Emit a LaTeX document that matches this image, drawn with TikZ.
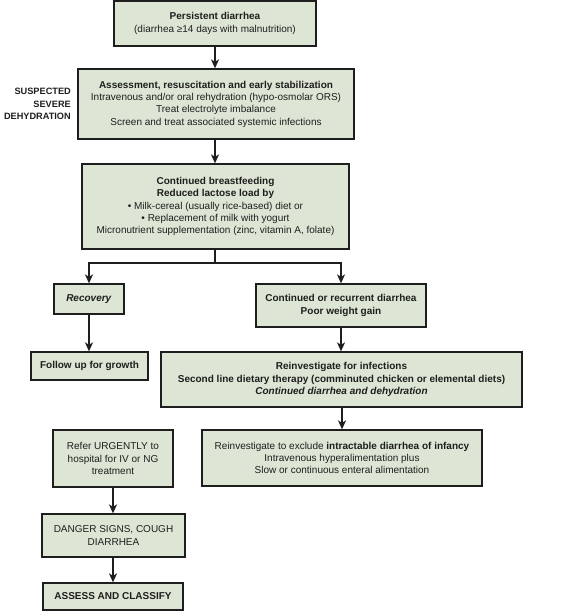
\documentclass[tikz,border=0pt]{standalone}
\usepackage{fontspec}
\setmainfont{Liberation Sans}
\usetikzlibrary{arrows.meta}
\definecolor{boxfill}{RGB}{221,230,213}
\definecolor{ink}{RGB}{30,30,30}
\begin{document}
\begin{tikzpicture}[x=1pt,y=-1pt,
  box/.style={draw=ink, fill=boxfill, line width=1.3pt, inner sep=0pt, align=center,
    font=\fontsize{10}{12.3}\selectfont, text=ink},
  arr/.style={draw=ink, line width=1.3pt, -{Stealth[length=9pt,width=8pt,inset=2.5pt]}},
  conn/.style={draw=ink, line width=1.3pt}]
\useasboundingbox (0,0) rectangle (569,611);
\node[box, minimum width=202pt, minimum height=45pt] (b1) at (215,23.5)
  {\textbf{Persistent diarrhea}\\(diarrhea ≥14 days with malnutrition)};
\node[box, minimum width=276pt, minimum height=70pt] (b2) at (216,104)
  {\textbf{Assessment, resuscitation and early stabilization}\\
   Intravenous and/or oral rehydration (hypo-osmolar ORS)\\
   Treat electrolyte imbalance\\
   Screen and treat associated systemic infections};
\node[anchor=east, align=right, inner sep=0pt, font=\fontsize{9.2}{12.2}\selectfont\bfseries, text=ink] (sus) at (71,104)
  {SUSPECTED\\SEVERE\\DEHYDRATION};
\node[box, minimum width=267pt, minimum height=85pt] (b3) at (215.5,206.5)
  {\textbf{Continued breastfeeding}\\
   \textbf{Reduced lactose load by}\\
   • Milk-cereal (usually rice-based) diet or\\
   • Replacement of milk with yogurt\\
   Micronutrient supplementation (zinc, vitamin A, folate)};
\node[box, minimum width=70pt, minimum height=30pt] (rec) at (89,299)
  {\textbf{\textit{Recovery}}};
\node[box, minimum width=170pt, minimum height=43pt] (cont) at (341,305.5)
  {\textbf{Continued or recurrent diarrhea}\\\textbf{Poor weight gain}};
\node[box, minimum width=117pt, minimum height=28pt] (fol) at (89.5,366)
  {\textbf{Follow up for growth}};
\node[box, minimum width=361pt, minimum height=55pt] (rein) at (341.5,379.5)
  {\textbf{Reinvestigate for infections}\\
   \textbf{Second line dietary therapy (comminuted chicken or elemental diets)}\\
   \textbf{\textit{Continued diarrhea and dehydration}}};
\node[box, minimum width=280pt, minimum height=56pt] (intr) at (342,458)
  {Reinvestigate to exclude \textbf{intractable diarrhea of infancy}\\
   Intravenous hyperalimentation plus\\
   Slow or continuous enteral alimentation};
\node[box, minimum width=120pt, minimum height=57pt] (ref) at (113,458.5)
  {Refer URGENTLY to\\hospital for IV or NG\\treatment};
\node[box, minimum width=143pt, minimum height=43pt] (dang) at (113.5,535.5)
  {DANGER SIGNS, COUGH\\DIARRHEA};
\node[box, minimum width=140pt, minimum height=27pt] (ass) at (113,596.5)
  {\textbf{ASSESS AND CLASSIFY}};
\coordinate (split) at (215,263);
\draw[arr] (b1.south) -- (b2.north -| b1.south);
\draw[arr] (b2.south -| b1.south) -- (b3.north -| b1.south);
\draw[conn] (b3.south -| split) -- (split);
\draw[arr] (split) -| (rec.north);
\draw[arr] (split) -| (cont.north);
\draw[arr] (rec.south) -- (fol.north -| rec.south);
\draw[arr] (cont.south) -- (rein.north -| cont.south);
\draw[arr] (rein.south -| intr.north) -- (intr.north);
\draw[arr] (ref.south) -- (dang.north -| ref.south);
\draw[arr] (dang.south -| ref.south) -- (ass.north -| ref.south);
\end{tikzpicture}
\end{document}
